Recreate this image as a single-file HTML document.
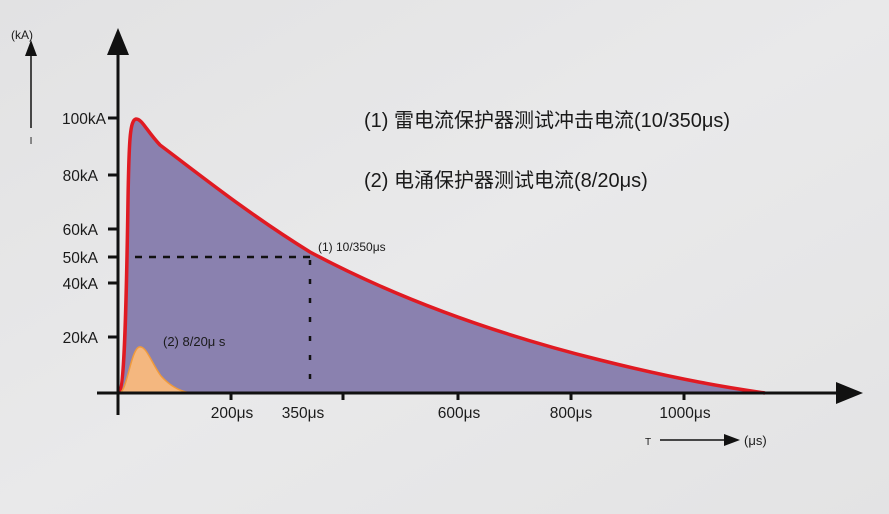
<!DOCTYPE html>
<html><head><meta charset="utf-8"><style>
html,body{margin:0;padding:0;background:#e4e4e5;}
svg{display:block;}
text{font-family:"Liberation Sans","Noto Sans CJK SC",sans-serif;fill:#1a1a1a;}
</style></head><body>
<svg width="889" height="514" viewBox="0 0 889 514" xmlns="http://www.w3.org/2000/svg">
<defs><linearGradient id="bg" x1="0" y1="0" x2="1" y2="1"><stop offset="0" stop-color="#e2e2e3"/><stop offset="0.5" stop-color="#e9e9ea"/><stop offset="1" stop-color="#e3e3e4"/></linearGradient></defs>
<rect width="889" height="514" fill="url(#bg)"/>
<path d="M118,393 C124,393 126,330 128,200 C129,140 130,120 136,119 C142,119 146,130 160,145 C200,175 250,215 310,252 C400,300 500,335 600,360 C680,380 730,388 765,393 Z" fill="#8a81af"/>
<path d="M118,393 C124,393 126,330 128,200 C129,140 130,120 136,119 C142,119 146,130 160,145 C200,175 250,215 310,252 C400,300 500,335 600,360 C680,380 730,388 765,393" fill="none" stroke="#e01a22" stroke-width="3.5"/>
<path d="M120,393 C127,390 131,350 139,347 C146,345 151,362 161,376 C171,387 181,392 192,393 Z" fill="#f4b77f" stroke="#f09a3c" stroke-width="1.5"/>
<line x1="135" y1="257" x2="310" y2="257" stroke="#111" stroke-width="2.5" stroke-dasharray="7,7"/>
<line x1="310" y1="260" x2="310" y2="392" stroke="#111" stroke-width="2.5" stroke-dasharray="5,14"/>
<line x1="118" y1="45" x2="118" y2="415" stroke="#111" stroke-width="3"/>
<polygon points="118,28 107,55 129,55" fill="#111"/>
<line x1="97" y1="393" x2="845" y2="393" stroke="#111" stroke-width="3"/>
<polygon points="863,393 836,382 836,404" fill="#111"/>
<g stroke="#111" stroke-width="3">
<line x1="108" y1="118" x2="118" y2="118"/><line x1="108" y1="175" x2="118" y2="175"/>
<line x1="108" y1="229" x2="118" y2="229"/><line x1="108" y1="257" x2="118" y2="257"/>
<line x1="108" y1="283" x2="118" y2="283"/><line x1="108" y1="337" x2="118" y2="337"/>
<line x1="231" y1="393" x2="231" y2="400"/><line x1="343" y1="393" x2="343" y2="400"/>
<line x1="458" y1="393" x2="458" y2="400"/><line x1="571" y1="393" x2="571" y2="400"/>
<line x1="684" y1="393" x2="684" y2="400"/>
</g>
<g font-size="15.5" text-anchor="end">
<text x="106" y="124">100kA</text><text x="98" y="181">80kA</text>
<text x="98" y="235">60kA</text><text x="98" y="263">50kA</text>
<text x="98" y="289">40kA</text><text x="98" y="343">20kA</text>
</g>
<g font-size="15.5" text-anchor="middle">
<text x="232" y="418">200μs</text><text x="303" y="418">350μs</text>
<text x="459" y="418">600μs</text><text x="571" y="418">800μs</text>
<text x="685" y="418">1000μs</text>
</g>
<text x="11" y="39" font-size="12">(kA)</text>
<line x1="31" y1="52" x2="31" y2="128" stroke="#111" stroke-width="1.5"/>
<polygon points="31,40 25,56 37,56" fill="#111"/>
<text x="31" y="144" font-size="10" text-anchor="middle">I</text>
<text x="645" y="445" font-size="10">T</text>
<line x1="660" y1="440" x2="728" y2="440" stroke="#111" stroke-width="1.5"/>
<polygon points="740,440 724,434 724,446" fill="#111"/>
<text x="744" y="445" font-size="13">(μs)</text>
<text x="318" y="251" font-size="12">(1)  10/350μs</text>
<text x="163" y="346" font-size="13" fill="#2a2540">(2)  8/20μ s</text>
<text x="364" y="127" font-size="20">(1) 雷电流保护器测试冲击电流(10/350μs)</text>
<text x="364" y="187" font-size="20">(2) 电涌保护器测试电流(8/20μs)</text>
</svg>
</body></html>
